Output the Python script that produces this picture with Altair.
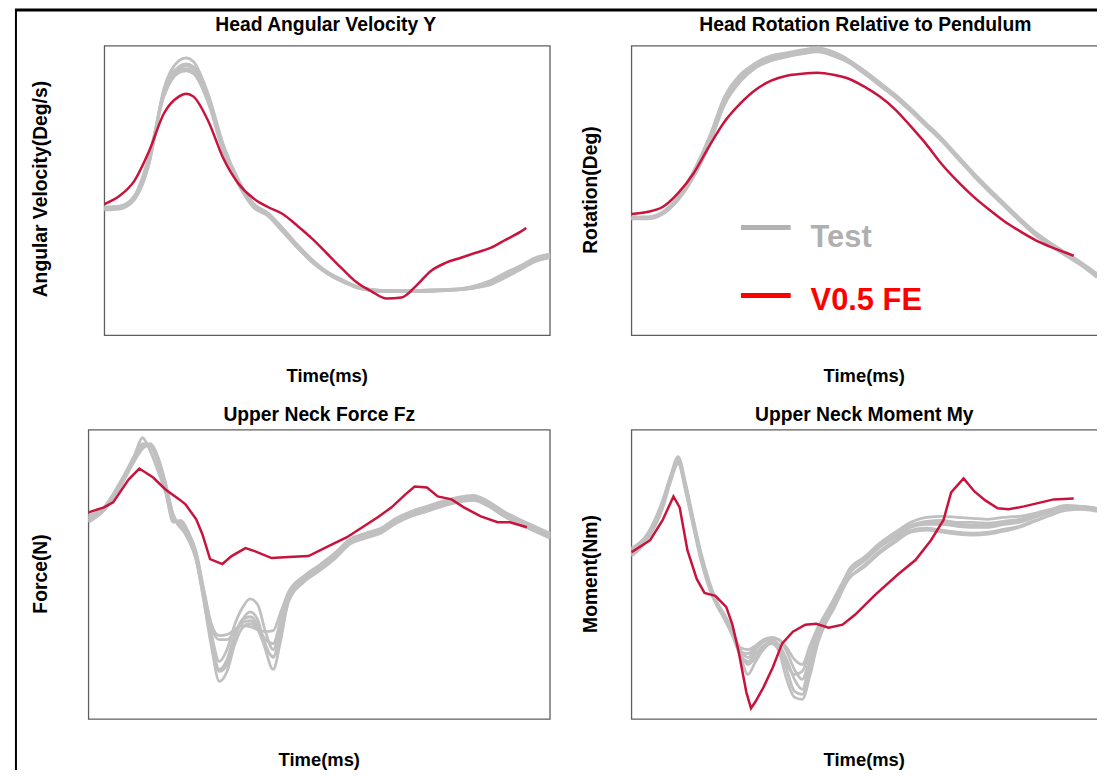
import altair as alt
import pandas as pd

# ---------------- data ----------------
# time in ms; response values in relative units (panel full scale = 291)

# Head Angular Velocity Y
t_angvel = [0, 5, 10, 15, 20, 25, 27.5, 30, 35, 40, 45, 50, 55, 60, 65, 70, 75, 80, 85, 90,
            95, 100, 105, 110, 115, 120, 125, 130, 135, 140, 145, 150]
test_angvel = [
    [126, 127, 136, 172, 248, 276, 279, 275, 242, 192, 157, 133, 123, 108, 91, 76, 64, 56, 49, 46,
     45, 45, 45, 46, 46, 47, 50, 55, 63, 70, 78, 82],
    [128, 129, 139, 178, 244, 268, 271, 268, 238, 189, 155, 131, 122, 106, 89, 74, 63, 55, 48, 45,
     44, 44, 44, 45, 45, 46, 48, 52, 60, 67, 75, 79],
    [129, 130, 140, 180, 240, 264, 266, 263, 233, 184, 152, 129, 120, 104, 88, 73, 62, 54, 48, 45,
     44, 44, 45, 45, 46, 47, 49, 54, 62, 69, 77, 81],
    [127, 128, 137, 175, 246, 270, 273, 270, 240, 190, 156, 132, 123, 107, 90, 75, 63, 55, 49, 46,
     45, 44, 44, 44, 45, 46, 48, 53, 61, 68, 76, 80],
    [128, 129, 138, 174, 242, 266, 268, 265, 236, 186, 154, 130, 121, 105, 88, 74, 62, 54, 48, 46,
     45, 45, 45, 45, 46, 46, 48, 51, 58, 66, 74, 78],
]
t_angvel_fe = [0, 5, 10, 15, 20, 25, 27.5, 30, 35, 40, 45, 50, 55, 60, 65, 70, 75, 80, 85, 90,
               95, 100, 105, 110, 115, 120, 125, 130, 135, 140, 142]
fe_angvel = [132, 140, 155, 185, 223, 240, 243, 240, 215, 178, 153, 138, 129, 122, 110, 97, 82, 67, 53, 44,
             37, 38, 50, 65, 73, 78, 83, 88, 96, 104, 108]

# Head Rotation Relative to Pendulum
t_rot = [0, 5, 10, 15, 20, 25, 30, 35, 40, 45, 50, 55, 60, 65, 70, 75, 80, 85, 90, 95,
         100, 105, 110, 115, 120, 125, 130, 135, 140, 145, 150]
test_rot = [
    [117, 117, 122, 137, 163, 197, 239, 261, 274, 281, 284, 287, 289, 285, 277, 266, 254, 241, 227, 212,
     197, 180, 163, 147, 132, 117, 103, 92, 82, 72, 60],
    [119, 119, 124, 139, 161, 193, 235, 257, 270, 277, 281, 284, 286, 282, 275, 264, 252, 240, 226, 211,
     196, 179, 162, 146, 131, 116, 102, 91, 81, 71, 59],
    [118, 118, 123, 138, 165, 199, 240, 262, 273, 280, 283, 286, 288, 284, 276, 266, 254, 242, 228, 213,
     198, 181, 164, 148, 133, 118, 104, 93, 83, 73, 62],
    [118, 118, 123, 136, 159, 191, 232, 255, 269, 276, 280, 283, 285, 281, 274, 263, 251, 239, 225, 210,
     195, 178, 161, 145, 130, 115, 101, 90, 80, 70, 58],
    [117, 118, 122, 137, 162, 195, 237, 259, 272, 279, 282, 285, 287, 283, 276, 265, 253, 240, 227, 212,
     197, 180, 163, 147, 132, 117, 103, 92, 82, 72, 61],
]
t_rot_fe = [0, 5, 10, 15, 20, 25, 30, 35, 40, 45, 50, 55, 60, 65, 70, 75, 80, 85, 90, 95,
            100, 105, 110, 115, 120, 125, 130, 135, 140, 142.5]
fe_rot = [122, 124, 129, 143, 163, 190, 215, 233, 247, 256, 261, 263, 264, 262, 258, 250, 240, 227, 210, 192,
          172, 155, 140, 127, 115, 105, 96, 89, 83, 80]

# Upper Neck Force Fz
t_neck = [0, 5, 10, 12.5, 15, 17.5, 20, 22.5, 25, 27.5, 30, 32.5, 35, 37.5, 40, 42.5, 45, 47.5, 50, 52.5,
          55, 57.5, 60, 62.5, 65, 70, 75, 80, 85, 90, 95, 100, 105, 110, 115, 120, 125, 130, 135, 140,
          145, 150]
test_force = [
    [200, 211, 236, 251, 266, 283, 270, 250, 228, 200, 198, 182, 160, 118, 72, 38, 48, 75, 92, 96,
     90, 72, 63, 85, 118, 138, 149, 161, 176, 182, 187, 197, 204, 209, 214, 218, 220, 214, 204, 196,
     189, 182],
    [203, 212, 234, 248, 262, 276, 276, 262, 236, 204, 192, 184, 164, 122, 80, 48, 55, 82, 100, 108,
     100, 70, 50, 80, 120, 141, 151, 163, 178, 184, 189, 199, 206, 211, 216, 220, 222, 216, 206, 198,
     191, 184],
    [198, 210, 233, 247, 261, 274, 277, 264, 238, 206, 194, 186, 166, 125, 85, 58, 70, 95, 112, 121,
     115, 88, 70, 95, 124, 143, 153, 165, 180, 186, 191, 201, 208, 213, 218, 222, 224, 218, 208, 200,
     193, 186],
    [202, 212, 235, 249, 263, 275, 274, 260, 233, 202, 197, 185, 165, 128, 92, 80, 80, 88, 97, 99,
     93, 80, 76, 100, 126, 140, 150, 162, 177, 183, 188, 198, 205, 210, 215, 219, 221, 215, 205, 197,
     190, 183],
    [205, 213, 237, 250, 264, 277, 275, 258, 230, 198, 200, 188, 168, 130, 95, 84, 85, 90, 94, 93,
     90, 88, 89, 108, 128, 144, 155, 167, 181, 187, 192, 202, 209, 214, 219, 223, 225, 219, 209, 201,
     194, 187],
    [200, 210, 232, 246, 260, 272, 276, 263, 236, 205, 193, 180, 160, 120, 76, 50, 60, 85, 100, 103,
     95, 75, 62, 90, 122, 139, 150, 163, 178, 184, 189, 199, 206, 211, 216, 220, 222, 216, 206, 198,
     191, 184],
]
t_force_fe = [0, 5, 8, 13, 16.5, 21, 25, 29.5, 31.5, 35, 37, 39.5, 43.5, 46.5, 51, 54, 59.5, 65, 71.5, 78,
              84, 89, 94, 98.5, 103, 106, 110, 113.5, 118, 122, 127.5, 133, 137, 142.5]
fe_force = [208, 213, 218, 241, 252, 243, 231, 221, 216, 201, 186, 161, 156, 164, 172, 169, 162, 163, 164, 174,
            183, 193, 203, 213, 226, 234, 233, 224, 221, 213, 204, 198, 198, 193]

# Upper Neck Moment My
test_moment = [
    [166, 181, 214, 240, 262, 231, 194, 160, 132, 114, 101, 86, 66, 55, 62, 72, 78, 72, 50, 28,
     25, 50, 80, 98, 112, 150, 163, 177, 188, 198, 203, 204, 203, 202, 201, 203, 204, 207, 211, 215,
     214, 212],
    [170, 185, 218, 243, 260, 234, 198, 164, 137, 117, 104, 88, 70, 62, 70, 78, 80, 75, 60, 40,
     30, 58, 84, 100, 114, 146, 159, 173, 183, 193, 196, 196, 194, 193, 193, 196, 198, 203, 208, 213,
     213, 211],
    [164, 180, 212, 238, 257, 228, 192, 158, 133, 115, 100, 84, 64, 45, 58, 70, 76, 70, 55, 45,
     48, 70, 90, 104, 118, 142, 155, 169, 180, 190, 192, 190, 188, 187, 188, 191, 194, 200, 205, 211,
     212, 210],
    [172, 186, 220, 244, 264, 236, 200, 166, 139, 118, 105, 90, 72, 70, 74, 80, 82, 80, 72, 60,
     55, 74, 92, 106, 120, 148, 161, 175, 185, 195, 199, 200, 198, 198, 197, 199, 201, 205, 210, 214,
     214, 212],
    [168, 182, 215, 240, 258, 230, 195, 161, 135, 116, 102, 85, 65, 58, 66, 74, 78, 68, 40, 22,
     20, 44, 76, 96, 110, 141, 153, 167, 178, 188, 190, 188, 186, 185, 186, 189, 193, 199, 205, 210,
     211, 209],
    [170, 184, 217, 242, 261, 233, 197, 163, 136, 117, 103, 87, 68, 66, 72, 78, 82, 80, 68, 50,
     40, 62, 86, 102, 116, 147, 160, 174, 184, 194, 197, 197, 196, 195, 195, 197, 199, 204, 209, 213,
     213, 211],
]
t_moment_fe = [0, 6, 10, 13.5, 15.5, 18, 21, 23.5, 27, 30.5, 32.5, 34.5, 37, 38.5, 40, 42.5, 45.5, 48.5, 52, 56,
               59.5, 63.5, 68, 72, 78.5, 86, 91.5, 96.5, 100.5, 103, 107, 110.5, 114, 118, 121.5, 126.5, 132,
               136, 142.5]
fe_moment = [168, 180, 200, 224, 213, 170, 141, 127, 124, 113, 95, 68, 27, 11, 18, 32, 52, 76, 88, 95,
             96, 92, 95, 105, 125, 146, 160, 180, 200, 228, 242, 229, 220, 212, 211, 214, 218, 221, 222]

panel_titles = ["Head Angular Velocity Y", "Head Rotation Relative to Pendulum",
                "Upper Neck Force Fz", "Upper Neck Moment My"]
y_titles = ["Angular Velocity(Deg/s)", "Rotation(Deg)", "Force(N)", "Moment(Nm)"]
x_title = "Time(ms)"
legend_labels = ["Test", "V0.5 FE"]

# ---------------- styling ----------------
GRAY = "#c0c0c0"
RED = "#c8143c"
FRAME = "#5e5e5e"
FONT = "Liberation Sans"
one = pd.DataFrame({"k": [0]})


def panel(t_test, tests, t_fe, fe, x0, x1, y0, y1, frame_x2, fe_interp):
    rows = []
    for i, vals in enumerate(tests):
        for t, v in zip(t_test, vals):
            rows.append({"t": t, "v": v, "run": f"test{i + 1}"})
    df_test = pd.DataFrame(rows)
    df_fe = pd.DataFrame({"t": t_fe, "v": fe})
    xs = alt.X("t:Q", scale=alt.Scale(domain=[0, 150], range=[x0, x1], nice=False, zero=False), axis=None)
    ys = alt.Y("v:Q", scale=alt.Scale(domain=[0, 291], range=[y1, y0], nice=False, zero=False), axis=None)
    frame = alt.Chart(one).mark_rect(fillOpacity=0, stroke=FRAME, strokeWidth=1.3).encode(
        x=alt.value(x0), x2=alt.value(frame_x2), y=alt.value(y0), y2=alt.value(y1))
    gray = alt.Chart(df_test).mark_line(color=GRAY, strokeWidth=2.8, interpolate="monotone").encode(
        x=xs, y=ys, detail="run:N")
    red = alt.Chart(df_fe).mark_line(color=RED, strokeWidth=2.5, interpolate=fe_interp).encode(x=xs, y=ys)
    return [frame, gray, red]


def label(text, x, y, size, angle=None, color="black", align="center", baseline="alphabetic"):
    kw = dict(text=text, font=FONT, fontSize=size, fontWeight="bold", color=color,
              align=align, baseline=baseline)
    if angle is not None:
        kw["angle"] = angle
    return alt.Chart(one).mark_text(**kw).encode(x=alt.value(x), y=alt.value(y))


layers = []
layers += panel(t_angvel, test_angvel, t_angvel_fe, fe_angvel, 97, 545, 36, 327, 545, "monotone")
layers += panel(t_rot, test_rot, t_rot_fe, fe_rot, 627, 1095, 36, 327, 1102, "monotone")
layers += panel(t_neck, test_force, t_force_fe, fe_force, 81, 545, 422, 713, 545, "linear")
layers += panel(t_neck, test_moment, t_moment_fe, fe_moment, 627, 1095, 422, 713, 1102, "linear")

# titles
layers.append(label(panel_titles[0], 319.5, 21.3, 19.4))
layers.append(label(panel_titles[1], 862, 21.3, 19.4))
layers.append(label(panel_titles[2], 313, 413, 19.4))
layers.append(label(panel_titles[3], 861, 413, 19.4))
# x axis titles
layers.append(label(x_title, 321, 373.7, 18.5))
layers.append(label(x_title, 861, 373.7, 18.5))
layers.append(label(x_title, 313, 759.7, 18.5))
layers.append(label(x_title, 861, 759.7, 18.5))
# y axis titles
layers.append(label(y_titles[0], 33.5, 180, 19.4, angle=270, baseline="middle"))
layers.append(label(y_titles[1], 586, 181, 19.4, angle=270, baseline="middle"))
layers.append(label(y_titles[2], 33.5, 567, 19.4, angle=270, baseline="middle"))
layers.append(label(y_titles[3], 586, 567, 19.4, angle=270, baseline="middle"))

# legend inside the top-right panel
layers.append(alt.Chart(one).mark_rule(color="#b3b3b3", strokeWidth=5).encode(
    x=alt.value(737), x2=alt.value(787), y=alt.value(218.5)))
layers.append(alt.Chart(one).mark_rule(color="#ff0000", strokeWidth=5).encode(
    x=alt.value(737), x2=alt.value(787), y=alt.value(287)))
layers.append(label(legend_labels[0], 807, 238.7, 31, color="#b0b0b0", align="left"))
layers.append(label(legend_labels[1], 807, 302, 31, color="#ff0000", align="left"))

# outer slide frame (left and top black lines)
layers.append(alt.Chart(one).mark_rule(color="black", strokeWidth=2).encode(
    x=alt.value(8), y=alt.value(0), y2=alt.value(764)))
layers.append(alt.Chart(one).mark_rule(color="black", strokeWidth=3).encode(
    x=alt.value(7), x2=alt.value(1095), y=alt.value(0)))

chart = alt.layer(*layers).resolve_scale(x="independent", y="independent").properties(
    width=1095, height=764, padding=0,
    autosize=alt.AutoSizeParams(type="none"),
).configure_view(stroke=None)

chart.save("out.html", embed_options={"renderer": "svg", "actions": False})
